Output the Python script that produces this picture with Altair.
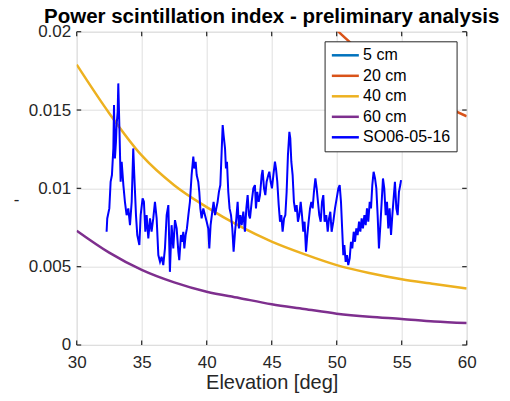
import altair as alt
import pandas as pd

# ---------------- data ----------------
chart_title = "Power scintillation index - preliminary analysis"
elev_grid = [30, 32.5, 35, 37.5, 40, 42.5, 45, 47.5, 50, 52.5, 55, 57.5, 60]
si_5cm = [0.24, 0.20, 0.17, 0.146, 0.127, 0.112, 0.099, 0.089, 0.080, 0.073, 0.068, 0.062, 0.058]
si_20cm = [0.061, 0.0505, 0.0426, 0.0365, 0.0317, 0.0279, 0.0247, 0.0222, 0.0201, 0.0183, 0.0169, 0.0156, 0.0146]
si_40cm = [0.0179, 0.0148, 0.0121, 0.0102, 0.0088, 0.0076, 0.0066, 0.0058, 0.0051, 0.0046, 0.0042, 0.0039, 0.0036]
si_60cm = [0.0073, 0.0059, 0.0048, 0.0040, 0.0034, 0.0030, 0.0026, 0.0023, 0.0020, 0.0018, 0.00166, 0.0015, 0.0014]

so_elev = [
    32.30, 32.35, 32.51, 32.61, 32.71, 32.82, 32.87, 32.94, 33.02, 33.07, 33.15, 33.20, 33.28, 33.38, 33.46,
    33.59, 33.71, 33.84, 33.97, 34.10, 34.23, 34.35, 34.43, 34.56, 34.66, 34.82, 34.92, 35.07, 35.17, 35.28,
    35.38, 35.51, 35.64, 35.76, 35.89, 36.02, 36.15, 36.28, 36.41, 36.53, 36.66, 36.79, 36.92, 37.05, 37.17,
    37.30, 37.43,
    37.56, 37.69, 37.82, 37.89, 38.02, 38.12, 38.20, 38.28, 38.38, 38.48, 38.59, 38.71, 38.84, 38.97, 39.05,
    39.15, 39.23, 39.35, 39.43, 39.51, 39.61, 39.74, 39.87, 40.00, 40.12, 40.20, 40.30, 40.43, 40.53, 40.64,
    40.74, 40.84, 40.94, 41.05, 41.15, 41.23, 41.30, 41.41, 41.48, 41.56, 41.66, 41.76, 41.87, 41.97, 42.07,
    42.18, 42.28, 42.38, 42.48, 42.59, 42.69, 42.82, 42.94, 43.05, 43.15, 43.25,
    43.33, 43.46, 43.59, 43.71, 43.79, 43.89, 44.00, 44.10, 44.23, 44.30, 44.41, 44.51, 44.61, 44.74, 44.82,
    44.92, 45.02, 45.13, 45.25, 45.33, 45.43, 45.54, 45.64, 45.74, 45.84, 45.95, 46.05, 46.15, 46.25, 46.36,
    46.43, 46.51, 46.61, 46.71, 46.82, 46.92, 47.02, 47.12, 47.23, 47.33, 47.43, 47.53, 47.64, 47.74, 47.84,
    47.95, 48.05, 48.15, 48.25, 48.36, 48.46, 48.56, 48.66, 48.77, 48.87, 48.97, 49.07,
    49.20, 49.31, 49.41, 49.51, 49.61, 49.74, 49.87, 50.00, 50.13, 50.23, 50.33, 50.43, 50.51, 50.59, 50.69,
    50.79, 50.89, 51.00, 51.10, 51.20, 51.31, 51.41, 51.51, 51.61, 51.72, 51.82, 51.92, 52.02, 52.13, 52.23,
    52.33, 52.43, 52.54, 52.64, 52.74, 52.84, 52.95, 53.05, 53.15, 53.25, 53.36, 53.46, 53.56, 53.66, 53.77,
    53.87, 53.97, 54.07, 54.18, 54.28, 54.38, 54.48, 54.59, 54.69, 54.79, 54.89, 54.95,
]
so_si = [
    0.00723, 0.00808, 0.00872, 0.01042, 0.01085, 0.01255, 0.01532, 0.01191, 0.01297, 0.01404, 0.01489, 0.01670, 0.01404, 0.01042, 0.01170,
    0.01021, 0.00914, 0.00829, 0.00872, 0.00765, 0.00914, 0.01255, 0.01085, 0.00829, 0.00702, 0.00638, 0.00829, 0.00936, 0.00914, 0.00723,
    0.00829, 0.00680, 0.00808, 0.00723, 0.00808, 0.00914, 0.00808, 0.00574, 0.00531, 0.00563, 0.00510, 0.00617, 0.00829, 0.00893, 0.00467,
    0.00765, 0.00617,
    0.00797, 0.00744, 0.00595, 0.00542, 0.00702, 0.00659, 0.00723, 0.00617, 0.00702, 0.00744, 0.00829, 0.00914, 0.01085, 0.01202, 0.01127,
    0.01170, 0.01085, 0.01042, 0.00978, 0.00872, 0.00808, 0.00872, 0.00829, 0.00787, 0.00744, 0.00617, 0.00765, 0.00851, 0.00914, 0.00829,
    0.00872, 0.00914, 0.00978, 0.01021, 0.01234, 0.01404, 0.01340, 0.01255, 0.01127, 0.01170, 0.00978, 0.00872, 0.00829, 0.00744, 0.00595,
    0.00723, 0.00808, 0.00914, 0.00744, 0.00829, 0.00765, 0.00851, 0.00723, 0.00872, 0.00957, 0.00829,
    0.00808, 0.00914, 0.01000, 0.01021, 0.00872, 0.00978, 0.00914, 0.00957, 0.01085, 0.01117, 0.01000, 0.00957, 0.01042, 0.01085, 0.01106,
    0.01042, 0.01000, 0.01085, 0.01170, 0.01127, 0.01042, 0.00893, 0.00787, 0.00829, 0.00723, 0.00808, 0.00829, 0.00978, 0.01212, 0.01361,
    0.01319, 0.01170, 0.01085, 0.00914, 0.00851, 0.00893, 0.00787, 0.00829, 0.00914, 0.00829, 0.00723, 0.00787, 0.00595, 0.00702, 0.00787,
    0.00872, 0.00914, 0.00872, 0.00978, 0.01063, 0.01000, 0.00914, 0.00829, 0.00787, 0.00914, 0.00957, 0.00787,
    0.00829, 0.00723, 0.00808, 0.00851, 0.00723, 0.00787, 0.00872, 0.00936, 0.01000, 0.01021, 0.00914, 0.00723, 0.00574, 0.00638, 0.00531,
    0.00574, 0.00510, 0.00553, 0.00659, 0.00617, 0.00723, 0.00659, 0.00744, 0.00702, 0.00787, 0.00723, 0.00808, 0.00744, 0.00829, 0.00765,
    0.00872, 0.00787, 0.00914, 0.00872, 0.01021, 0.01106, 0.01063, 0.01000, 0.00829, 0.00617, 0.00765, 0.00914, 0.01063, 0.01000, 0.00829,
    0.00914, 0.00744, 0.00872, 0.00702, 0.00829, 0.00936, 0.01042, 0.00872, 0.00829, 0.00978, 0.01021, 0.01053,
]

series_names = ["5 cm", "20 cm", "40 cm", "60 cm", "SO06-05-16"]
series_colors = ["#0072BD", "#D95319", "#EDB120", "#7E2F8E", "#0000FF"]
x_ticks = [30, 35, 40, 45, 50, 55, 60]
y_ticks = [0, 0.005, 0.01, 0.015, 0.02]

# ---------------- tables ----------------
rows = []
for name, vals in zip(series_names[:4], [si_5cm, si_20cm, si_40cm, si_60cm]):
    for e, v in zip(elev_grid, vals):
        rows.append({"series": name, "elev": e, "si": v})
model_df = pd.DataFrame(rows)
so_df = pd.DataFrame({"series": series_names[4], "elev": so_elev, "si": so_si})
xt_df = pd.DataFrame({"t": x_ticks})
yt_df = pd.DataFrame({"t": y_ticks})
title_df = pd.DataFrame({"title": [chart_title]})

W, H = 390, 313.3
FONT = "Liberation Sans"
TXT = "#262626"

x_scale = alt.Scale(domain=[30, 60], nice=False, zero=False)
y_scale = alt.Scale(domain=[0, 0.02], nice=False)

x_axis = alt.Axis(values=x_ticks, title="Elevation [deg]", labelFont=FONT, labelFontSize=17,
                  labelColor=TXT, labelPadding=10, ticks=False, domain=False, grid=True,
                  gridColor="#DFDFDF", gridWidth=1, titleFont=FONT, titleFontSize=20,
                  titleFontWeight="normal", titleColor=TXT, titleY=44, titleBaseline="alphabetic",
                  labelFlush=False)
y_axis = alt.Axis(values=y_ticks, format=".3~f", title="-", labelFont=FONT, labelFontSize=17,
                  labelColor=TXT, labelPadding=6, ticks=False, domain=False, grid=True,
                  gridColor="#DFDFDF", gridWidth=1, titleFont=FONT, titleFontSize=17,
                  titleFontWeight="normal", titleColor=TXT, titleX=-60.7, titleY=168,
                  titleAngle=0, titleAlign="center", titleBaseline="middle", labelFlush=False)

color = alt.Color(
    "series:N",
    scale=alt.Scale(domain=series_names, range=series_colors),
    legend=alt.Legend(title=None, orient="none", legendX=247.9, legendY=9.6,
                      fillColor="white", strokeColor=TXT, padding=6,
                      symbolType="M-1,0L3,0", symbolSize=182.25, symbolStrokeWidth=2.5,
                      symbolFillColor="transparent",
                      labelFont=FONT, labelFontSize=16, labelColor="black",
                      labelOffset=16.5, rowPadding=4.5),
)

models = alt.Chart(model_df).mark_line(clip=True, strokeWidth=2.5, interpolate="monotone").encode(
    x=alt.X("elev:Q", scale=x_scale, axis=x_axis),
    y=alt.Y("si:Q", scale=y_scale, axis=y_axis),
    color=color,
    detail="series:N",
)
so_line = alt.Chart(so_df).mark_line(clip=True, strokeWidth=2).encode(
    x=alt.X("elev:Q", scale=x_scale),
    y=alt.Y("si:Q", scale=y_scale),
    color=color,
)

tick_len = 4.5
xt_bottom = alt.Chart(xt_df).mark_rule(color=TXT, strokeWidth=1.2).encode(
    x=alt.X("t:Q", scale=x_scale), y=alt.value(H), y2=alt.value(H - tick_len))
xt_top = alt.Chart(xt_df).mark_rule(color=TXT, strokeWidth=1.2).encode(
    x=alt.X("t:Q", scale=x_scale), y=alt.value(0), y2=alt.value(tick_len))
yt_left = alt.Chart(yt_df).mark_rule(color=TXT, strokeWidth=1.2).encode(
    y=alt.Y("t:Q", scale=y_scale), x=alt.value(0), x2=alt.value(tick_len))
yt_right = alt.Chart(yt_df).mark_rule(color=TXT, strokeWidth=1.2).encode(
    y=alt.Y("t:Q", scale=y_scale), x=alt.value(W), x2=alt.value(W - tick_len))

title_mark = alt.Chart(title_df).mark_text(
    font=FONT, fontSize=20.5, fontWeight="bold", color="black", align="center",
    baseline="alphabetic").encode(text="title:N", x=alt.value(W / 2), y=alt.value(-9))

chart = alt.layer(models, so_line, xt_bottom, xt_top, yt_left, yt_right, title_mark).properties(
    width=W, height=H,
    autosize=alt.AutoSizeParams(type="none"),
    padding={"left": 68.7, "top": 23.7, "right": 35, "bottom": 48},
).configure_view(stroke=TXT, strokeWidth=1.5).configure(background="white")

chart.save("out.html", embed_options={"renderer": "svg", "actions": False})
